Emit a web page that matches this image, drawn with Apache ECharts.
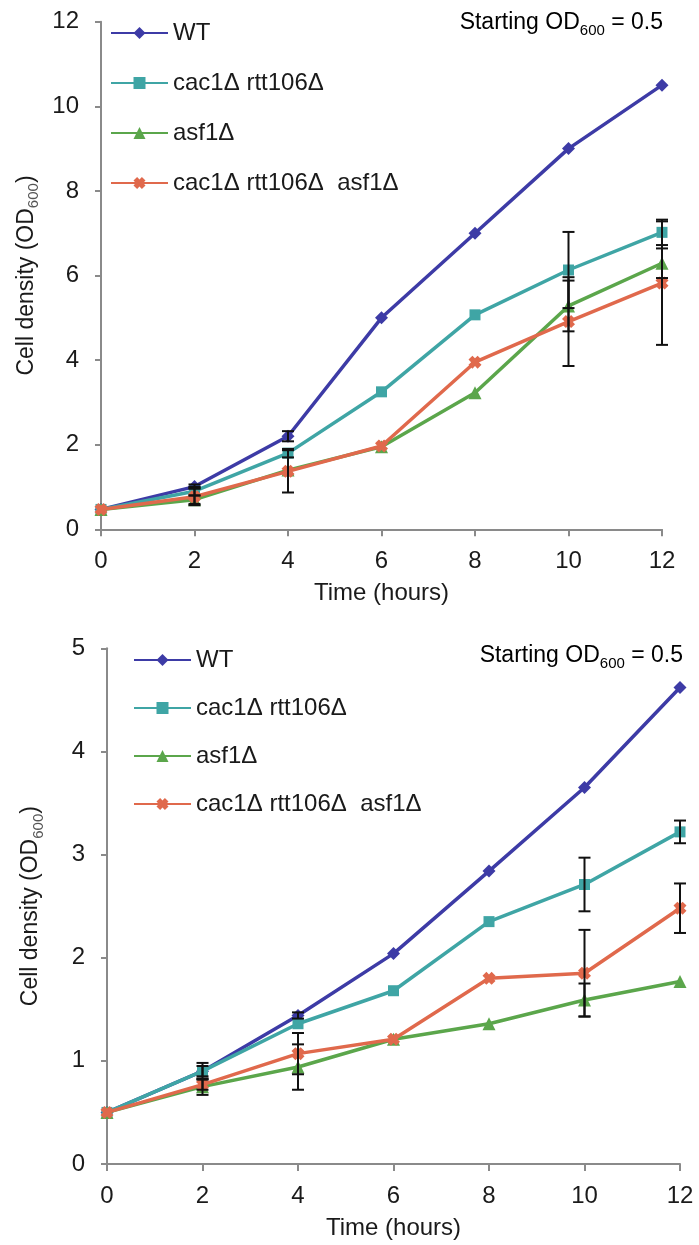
<!DOCTYPE html>
<html>
<head>
<meta charset="utf-8">
<script src="https://cdn.jsdelivr.net/npm/echarts@6/dist/echarts.min.js"></script>
<style>
html, body { margin: 0; padding: 0; background: #fff; }
#growth { width: 699px; height: 1245px; }
</style>
</head>
<body>
<div id="growth"></div>
<script>
var hours = [0, 2, 4, 6, 8, 10, 12];
var strainNames = ['WT', 'cac1Δ rtt106Δ', 'asf1Δ', 'cac1Δ rtt106Δ  asf1Δ'];

// top panel (OD600, max 12)
var wtTop      = [0.47, 1.01, 2.2, 5.0, 7.0, 9.0, 10.5];
var cacRttTop  = [0.47, 0.9, 1.8, 3.25, 5.07, 6.13, 7.02];
var asfTop     = [0.47, 0.7, 1.4, 1.95, 3.23, 5.28, 6.29];
var tripleTop  = [0.47, 0.77, 1.37, 1.97, 3.95, 4.91, 5.82];
var wtTopErr     = [0, 0.05, 0.12, 0, 0, 0, 0];
var cacRttTopErr = [0, 0.1, 0.1, 0, 0, 0.9, 0.3];
var asfTopErr    = [0, 0.1, 0, 0, 0, 0.6, 0.35];
var tripleTopErr = [0, 0.2, 0.5, 0, 0, 1.05, 1.46];

// bottom panel (OD600, max 5)
var wtBot      = [0.5, 0.9, 1.44, 2.04, 2.84, 3.65, 4.62];
var cacRttBot  = [0.5, 0.9, 1.36, 1.68, 2.35, 2.71, 3.22];
var asfBot     = [0.5, 0.75, 0.94, 1.21, 1.36, 1.59, 1.77];
var tripleBot  = [0.5, 0.77, 1.07, 1.21, 1.80, 1.85, 2.48];
var wtBotErr     = [0, 0.05, 0.03, 0, 0, 0, 0];
var cacRttBotErr = [0, 0.08, 0, 0, 0, 0.26, 0.11];
var asfBotErr    = [0, 0.08, 0.22, 0, 0, 0.16, 0];
var tripleBotErr = [0, 0.05, 0.2, 0, 0, 0.42, 0.24];

var colors = ['#3d3ba6', '#3fa5a5', '#5ba64b', '#e0694c'];
var symbols = ['diamond', 'rect', 'triangle',
  'path://M0,3 L3,0 L5,2 L7,0 L10,3 L8,5 L10,7 L7,10 L5,8 L3,10 L0,7 L2,5 Z'];
var symbolSizes = [13, 11, 13, 13];
var font = "'Liberation Sans', Arial, sans-serif";
var textColor = '#1a1a1a';
var axisGray = '#8a8a8a';

function lineSeries(i, values, idx) {
  return {
    name: strainNames[i],
    type: 'line',
    xAxisIndex: idx,
    yAxisIndex: idx,
    data: hours.map(function (h, k) { return [h, values[k]]; }),
    symbol: symbols[i],
    symbolSize: symbolSizes[i],
    showAllSymbol: true,
    lineStyle: { width: 3.5, color: colors[i] },
    itemStyle: { color: colors[i] },
    emphasis: { disabled: true },
    z: 2 + i
  };
}

function errorSeries(idx, sets) {
  var data = [];
  sets.forEach(function (s) {
    hours.forEach(function (h, k) {
      if (s[1][k] > 0) data.push([h, s[0][k] - s[1][k], s[0][k] + s[1][k]]);
    });
  });
  return {
    type: 'custom',
    xAxisIndex: idx,
    yAxisIndex: idx,
    silent: true,
    z: 10,
    encode: { x: 0, y: [1, 2] },
    data: data,
    renderItem: function (params, api) {
      var top = api.coord([api.value(0), api.value(2)]);
      var bot = api.coord([api.value(0), api.value(1)]);
      var w = 6;
      var st = { stroke: '#111', lineWidth: 2 };
      return {
        type: 'group',
        children: [
          { type: 'line', shape: { x1: top[0], y1: top[1], x2: bot[0], y2: bot[1] }, style: st },
          { type: 'line', shape: { x1: top[0] - w, y1: top[1], x2: top[0] + w, y2: top[1] }, style: st },
          { type: 'line', shape: { x1: bot[0] - w, y1: bot[1], x2: bot[0] + w, y2: bot[1] }, style: st }
        ]
      };
    }
  };
}

function xAxis(idx) {
  return {
    type: 'value', gridIndex: idx, min: 0, max: 12, interval: 2,
    name: 'Time (hours)', nameLocation: 'middle', nameGap: 52,
    nameTextStyle: { fontSize: 24, color: textColor, fontFamily: font },
    axisLine: { lineStyle: { color: axisGray, width: 2 } },
    axisTick: { show: true, inside: false, length: 7, lineStyle: { color: axisGray, width: 2 } },
    axisLabel: { fontSize: 24, color: textColor, fontFamily: font, margin: 20 },
    splitLine: { show: false }
  };
}

var odRich = {
  n: { fontSize: 23, color: textColor, fontFamily: font, lineHeight: 30 },
  s: { fontSize: 15, color: '#555', fontFamily: font, lineHeight: 14, verticalAlign: 'bottom' }
};

function yAxis(idx, max, step, gap) {
  return {
    type: 'value', gridIndex: idx, min: 0, max: max, interval: step,
    name: '{n|Cell density (OD}{s|600}{n|)}', nameLocation: 'middle', nameRotate: 90, nameGap: gap,
    nameTextStyle: { rich: odRich },
    axisLine: { show: true, lineStyle: { color: axisGray, width: 2 } },
    axisTick: { show: true, inside: false, length: 6, lineStyle: { color: axisGray, width: 2 } },
    axisLabel: { fontSize: 24, color: textColor, fontFamily: font, margin: 22 },
    splitLine: { show: false }
  };
}

function legend(left, top, gap) {
  return {
    data: strainNames,
    orient: 'vertical',
    left: left,
    top: top,
    itemWidth: 57,
    itemHeight: 15,
    itemGap: gap,
    selectedMode: false,
    textStyle: { fontSize: 24, color: textColor, fontFamily: font, lineHeight: 26 }
  };
}

var chart = echarts.init(document.getElementById('growth'));
chart.setOption({
  animation: false,
  backgroundColor: '#fff',
  grid: [
    { left: 101, top: 21.7, width: 561, height: 507.6 },
    { left: 107, top: 648.3, width: 573, height: 515.7 }
  ],
  legend: [legend(105, 15, 24), legend(128, 642, 22)],
  xAxis: [xAxis(0), xAxis(1)],
  yAxis: [yAxis(0, 12, 2, 54), yAxis(1, 5, 1, 61)],
  graphic: [
    { type: 'text', x: 663, y: 23, style: { text: '{n|Starting OD}{s|600}{n| = 0.5}', rich: odRich, align: 'right', verticalAlign: 'middle' } },
    { type: 'text', x: 683, y: 656, style: { text: '{n|Starting OD}{s|600}{n| = 0.5}', rich: odRich, align: 'right', verticalAlign: 'middle' } }
  ],
  series: [
    lineSeries(0, wtTop, 0),
    lineSeries(1, cacRttTop, 0),
    lineSeries(2, asfTop, 0),
    lineSeries(3, tripleTop, 0),
    errorSeries(0, [[wtTop, wtTopErr], [cacRttTop, cacRttTopErr], [asfTop, asfTopErr], [tripleTop, tripleTopErr]]),
    lineSeries(0, wtBot, 1),
    lineSeries(1, cacRttBot, 1),
    lineSeries(2, asfBot, 1),
    lineSeries(3, tripleBot, 1),
    errorSeries(1, [[wtBot, wtBotErr], [cacRttBot, cacRttBotErr], [asfBot, asfBotErr], [tripleBot, tripleBotErr]])
  ]
});
</script>
</body>
</html>
